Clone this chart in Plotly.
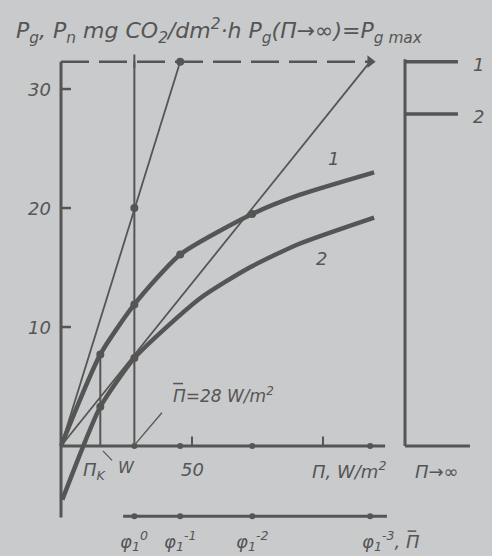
import plotly.graph_objects as go

# ---- data ----
pi_curve1 = [0, 15, 28, 45.5, 73, 91, 119.5]          # curve 1, Pg
pg_curve1 = [0, 7.7, 11.9, 16.1, 19.5, 21.1, 23.0]
pi_curve2 = [0.5, 8.5, 15, 28, 53, 72, 91, 119.5]     # curve 2, Pn
pn_curve2 = [-4.5, 0, 3.3, 7.4, 12.4, 15.0, 17.0, 19.2]
pi_dots1 = [15, 28, 45.5, 73]
pg_dots1 = [7.7, 11.9, 16.1, 19.5]
pi_dots2 = [15, 28]
pn_dots2 = [3.3, 7.4]
pi_marks = [28, 45.5, 73, 118]                        # marks on Π axis
phi_labels = ["φ<sub>1</sub><sup>0</sup>", "φ<sub>1</sub><sup>-1</sup>",
              "φ<sub>1</sub><sup>-2</sup>", "φ<sub>1</sub><sup>-3</sup>, Π"]
pg_max = 32.3
pi_k = 15
pi_bar = 28
steep_end = 45.5
flat_end = 118
right_levels = [32.3, 27.9]
right_labels = ["1", "2"]
y_ticks = [10, 20, 30]
x_ticks = [50, 100]
x_tick_labels = ["50", ""]

INK = "#555555"
BG = "#c9cacb"
FONT = "DejaVu Sans"

fig = go.Figure()

def seg(x0, y0, x1, y1, w=2.0, dash=None):
    line = dict(color=INK, width=w)
    if dash:
        line["dash"] = dash
    fig.add_shape(type="line", x0=x0, y0=y0, x1=x1, y1=y1, xref="x", yref="y", line=line)

def txt(x, y, s, size=17, xanchor="center", yanchor="middle"):
    fig.add_annotation(x=x, y=y, xref="x", yref="y", text="<i>" + s + "</i>", showarrow=False,
                       font=dict(family=FONT, size=size, color=INK), xanchor=xanchor, yanchor=yanchor)

# axes
seg(0, -6.0, 0, pg_max, w=3)
seg(0, 0, 123.7, 0, w=3)
seg(0, pg_max, flat_end, pg_max, w=2.5, dash="28px,10px")
seg(pi_bar, 0, pi_bar, pg_max, w=2)
seg(pi_k, 0, pi_k, pg_curve1[1], w=2)
# y ticks
for v in y_ticks:
    seg(0, v, 3.8, v, w=2.5)
    txt(-3.0, v, str(v), size=18, xanchor="right")
# x ticks
for v, lab in zip(x_ticks, x_tick_labels):
    seg(v, 0, v, 0.8, w=2)
txt(50, -2.0, "50", size=18)
txt(110, -2.0, "Π, W/m<sup>2</sup>", size=18)
txt(13, -2.1, "Π<sub>K</sub>", size=18)
txt(25, -1.8, "W", size=16)
seg(16.0, -0.4, 19.5, -1.2, w=1.2)
# Π̄ label with leader
seg(pi_bar + 0.5, 0.2, 38.5, 2.8, w=1.3)
txt(42, 4.3, "Π=28 W/m<sup>2</sup>", size=17, xanchor="left")
seg(42.8, 5.25, 46.6, 5.25, w=1.5)   # overbar of Π̄

# thin lines from origin
seg(0, 0, steep_end, pg_max, w=1.8)
seg(0, 0, flat_end, pg_max, w=1.8)

# curves
fig.add_trace(go.Scatter(x=pi_curve1, y=pg_curve1, mode="lines",
                         line=dict(color=INK, width=4.5, shape="spline", smoothing=0.6),
                         hoverinfo="skip", showlegend=False))
fig.add_trace(go.Scatter(x=pi_curve2, y=pn_curve2, mode="lines",
                         line=dict(color=INK, width=4.5, shape="spline", smoothing=0.6),
                         hoverinfo="skip", showlegend=False))
fig.add_trace(go.Scatter(x=pi_dots1 + pi_dots2 + [pi_bar, steep_end],
                         y=pg_dots1 + pn_dots2 + [20.0, pg_max], mode="markers",
                         marker=dict(color=INK, size=8), hoverinfo="skip", showlegend=False))
fig.add_trace(go.Scatter(x=[flat_end], y=[pg_max], mode="markers",
                         marker=dict(color=INK, size=11, symbol="triangle-right"),
                         hoverinfo="skip", showlegend=False))
seg(pi_bar, pg_max - 0.5, pi_bar, pg_max + 0.6, w=2)
# marks on Π axis
fig.add_trace(go.Scatter(x=pi_marks, y=[0] * len(pi_marks), mode="markers",
                         marker=dict(color=INK, size=6), hoverinfo="skip", showlegend=False))
txt(104, 24.2, "1", size=18)
txt(99.6, 15.8, "2", size=18)

# lower φ axis
low_y = -5.9
seg(23.7, low_y, 124.4, low_y, w=3)
fig.add_trace(go.Scatter(x=pi_marks, y=[low_y] * len(pi_marks), mode="markers",
                         marker=dict(color=INK, size=6), hoverinfo="skip", showlegend=False))
for xv, lab in zip(pi_marks, phi_labels):
    if lab.endswith("Π"):
        txt(xv - 4, low_y - 2.1, lab, size=18, xanchor="left")
    else:
        txt(xv, low_y - 2.1, lab, size=18)
seg(132.3, -7.15, 135.6, -7.15, w=1.5)  # overbar of Π̄

# right panel: Π→∞
seg(131.3, 0, 131.3, 32.5, w=3)
seg(131.3, 0, 156.1, 0, w=3)
for lv, lab in zip(right_levels, right_labels):
    seg(131.3, lv, 151.5, lv, w=3.5)
    txt(159.5, lv - 0.2, lab, size=18)
txt(143.5, -2.1, "Π→∞", size=18)

# title
fig.add_annotation(x=-18.0, y=33.35, xref="x", yref="y", xanchor="left", yanchor="bottom",
                   text="<i>P<sub>g</sub>, P<sub>n</sub> mg CO<sub>2</sub>/dm<sup>2</sup>·h P<sub>g</sub>(Π→∞)=P<sub>g max</sub></i>",
                   showarrow=False, font=dict(family=FONT, size=22, color=INK))

fig.update_layout(width=492, height=556, margin=dict(l=0, r=0, t=0, b=0),
                  paper_bgcolor=BG, plot_bgcolor=BG,
                  xaxis=dict(range=[-23.28, 164.5], visible=False, fixedrange=True),
                  yaxis=dict(range=[-9.24, 37.48], visible=False, fixedrange=True))
fig.write_html("out.html", config={"displayModeBar": False},
               post_script="document.body.style.margin='0px';")
